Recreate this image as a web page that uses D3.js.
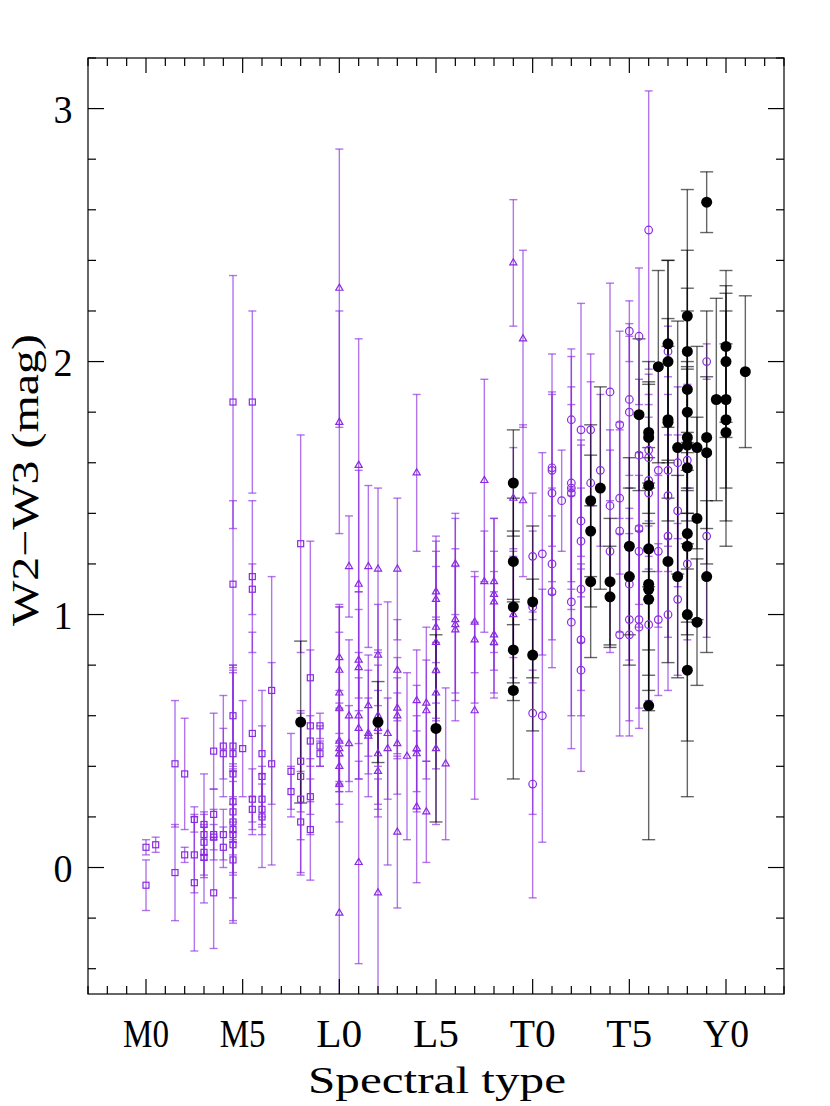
<!DOCTYPE html>
<html>
<head>
<meta charset="utf-8">
<script src="https://cdn.jsdelivr.net/npm/d3@7"></script>
<style>
  body { margin: 0; background: #fff; }
  svg text { font-family: "Liberation Serif", "DejaVu Serif", serif; fill: #000; }
</style>
</head>
<body>
<div id="chart"></div>
<script>
// spectral type code: M0 = 0, L0 = 10, T0 = 20, Y0 = 30
const tickTypes = [0, 5, 10, 15, 20, 25, 30];
const tickNames = ["M0", "M5", "L0", "L5", "T0", "T5", "Y0"];
const yTicks = [0, 1, 2, 3];

// [spectral type, W2-W3, error]
const mDwarfs = [
  [0, 0.08, 0.03], [0, -0.07, 0.10], [0.5, 0.09, 0.03],
  [1.5, 0.41, 0.25], [1.5, -0.02, 0.19], [2, 0.37, 0.22], [2, 0.05, 0.03],
  [2.5, 0.19, 0.05], [2.5, 0.05, 0.15], [2.5, -0.06, 0.27],
  [3, 0.17, 0.20], [3, 0.13, 0.08], [3, 0.10, 0.07], [3, 0.06, 0.10], [3, 0.04, 0.18],
  [3.5, 0.46, 0.15], [3.5, 0.21, 0.10], [3.5, 0.13, 0.10], [3.5, 0.12, 0.05], [3.5, -0.10, 0.22],
  [4, 0.48, 0.20], [4, 0.45, 0.10], [4, 0.13, 0.10], [4, 0.08, 0.08],
  [4.5, 1.84, 0.50], [4.5, 1.12, 0.33], [4.5, 0.60, 0.20], [4.5, 0.48, 0.30], [4.5, 0.45, 0.35],
  [4.5, 0.37, 0.40], [4.5, 0.26, 0.15], [4.5, 0.22, 0.12], [4.5, 0.18, 0.20], [4.5, 0.15, 0.10],
  [4.5, 0.13, 0.25], [4.5, 0.09, 0.30], [4.5, 0.03, 0.25],
  [5, 0.47, 0.19],
  [5.5, 1.84, 0.36], [5.5, 1.15, 0.30], [5.5, 1.10, 0.10], [5.5, 0.53, 0.40], [5.5, 0.27, 0.12], [5.5, 0.23, 0.05],
  [6, 0.45, 0.25], [6, 0.36, 0.20], [6, 0.27, 0.10], [6, 0.23, 0.10], [6, 0.20, 0.20],
  [6.5, 0.70, 0.45], [6.5, 0.41, 0.40],
  [7.5, 0.38, 0.15], [7.5, 0.30, 0.10],
  [8, 1.28, 0.43], [8, 0.42, 0.20], [8, 0.36, 0.25], [8, 0.27, 0.30], [8, 0.18, 0.20],
  [8.5, 0.75, 0.54], [8.5, 0.56, 0.30], [8.5, 0.50, 0.10], [8.5, 0.28, 0.15], [8.5, 0.15, 0.20],
  [9, 0.56, 0.05], [9, 0.48, 0.08], [9, 0.45, 0.05]
];

const lDwarfs = [
  [10, 2.29, 0.55], [10, 1.76, 0.44], [10, 0.83, 0.20], [10, 0.78, 0.25], [10, 0.69, 0.35],
  [10, 0.63, 0.30], [10, 0.50, 0.20], [10, 0.47, 0.15], [10, 0.45, 0.20], [10, 0.40, 0.10],
  [10, 0.33, 0.15], [10, -0.18, 0.62],
  [10.5, 1.19, 0.20], [10.5, 0.60, 0.30], [10.5, 0.49, 0.15],
  [11, 1.59, 0.50], [11, 1.12, 0.45], [11, 0.82, 0.20], [11, 0.79, 0.30], [11, 0.60, 0.25],
  [11, 0.55, 0.20], [11, 0.02, 0.40],
  [11.5, 1.19, 0.32], [11.5, 0.64, 0.20], [11.5, 0.53, 0.25], [11.5, 0.52, 0.15],
  [12, 1.18, 0.32], [12, 0.84, 0.20], [12, 0.60, 0.20], [12, 0.55, 0.30], [12, 0.45, 0.25],
  [12, 0.38, 0.15], [12, -0.10, 0.45],
  [12.5, 0.53, 0.52], [12.5, 0.47, 0.20],
  [13, 1.18, 0.28], [13, 0.78, 0.20], [13, 0.63, 0.20], [13, 0.60, 0.15], [13, 0.49, 0.20], [13, 0.14, 0.30],
  [13.5, 0.44, 0.33],
  [14, 1.56, 0.31], [14, 0.66, 0.20], [14, 0.47, 0.25], [14, 0.45, 0.15], [14, 0.24, 0.30],
  [14.5, 0.65, 0.30], [14.5, 0.62, 0.20], [14.5, 0.22, 0.20],
  [15, 1.09, 0.20], [15, 1.06, 0.25], [15, 0.95, 0.30], [15, 0.89, 0.30], [15, 0.78, 0.20],
  [15, 0.69, 0.30], [15, 0.47, 0.30],
  [15.5, 0.41, 0.30],
  [16, 1.20, 0.20], [16, 0.98, 0.40], [16, 0.96, 0.30], [16, 0.94, 0.25],
  [17, 0.97, 0.20], [17, 0.90, 0.25], [17, 0.62, 0.35],
  [17.5, 1.53, 0.40], [17.5, 1.13, 0.20],
  [18, 1.13, 0.25], [18, 1.08, 0.30], [18, 1.05, 0.20], [18, 0.92, 0.25], [18, 0.89, 0.20],
  [19, 2.39, 0.25], [19, 1.46, 0.20], [19, 1.03, 0.20], [19, 1.00, 0.25],
  [19.5, 2.09, 0.35], [19.5, 1.45, 0.30]
];

const tDwarfs = [
  [20, 1.23, 0.25], [20, 1.03, 0.30], [20, 0.61, 0.40], [20, 0.33, 0.45],
  [20.5, 1.24, 0.40], [20.5, 0.60, 0.50],
  [21, 1.58, 0.45], [21, 1.57, 0.30], [21, 1.48, 0.40], [21, 1.20, 0.30], [21, 1.09, 0.30],
  [21.5, 1.45, 0.20],
  [22, 1.77, 0.28], [22, 1.52, 0.50], [22, 1.50, 0.40], [22, 1.48, 0.35], [22, 1.05, 0.45], [22, 0.97, 0.50],
  [22.5, 1.73, 0.50], [22.5, 1.37, 0.30], [22.5, 1.29, 0.40], [22.5, 1.10, 0.40], [22.5, 0.90, 0.30], [22.5, 0.78, 0.40],
  [23, 1.73, 0.30], [23, 1.52, 0.40],
  [23.5, 1.57, 0.30],
  [24, 1.88, 0.43], [24, 1.43, 0.30], [24, 1.25, 0.40],
  [24.5, 1.75, 0.37], [24.5, 1.46, 0.30], [24.5, 1.33, 0.40], [24.5, 0.92, 0.40],
  [25, 2.12, 0.12], [25, 1.85, 0.30], [25, 1.80, 0.30], [25, 1.12, 0.30], [25, 0.98, 0.40], [25, 0.92, 0.40],
  [25.5, 2.10, 0.27], [25.5, 1.63, 0.30], [25.5, 1.34, 0.30], [25.5, 1.25, 0.30], [25.5, 0.98, 0.35], [25.5, 0.95, 0.40],
  [26, 2.52, 0.55], [26, 1.65, 0.30], [26, 1.62, 0.25], [26, 1.53, 0.30], [26, 1.48, 0.30], [26, 0.96, 0.30],
  [26.5, 1.57, 0.40], [26.5, 1.25, 0.30], [26.5, 0.98, 0.30],
  [27, 2.04, 0.10], [27, 1.57, 0.30], [27, 1.47, 0.30], [27, 1.31, 0.40], [27, 1.00, 0.30],
  [27.5, 1.60, 0.30], [27.5, 1.41, 0.30], [27.5, 1.06, 0.30],
  [28, 1.61, 0.30], [28, 1.20, 0.30],
  [29, 2.00, 0.07], [29, 1.31, 0.40]
];

const blackPts = [
  [8, 0.575, 0.32], [12, 0.575, 0.16], [15, 0.55, 0.37],
  [19, 1.52, 0.21], [19, 1.21, 0.25], [19, 1.03, 0.30], [19, 0.86, 0.20], [19, 0.70, 0.35],
  [20, 1.05, 0.30], [20, 0.84, 0.30],
  [23, 1.45, 0.30], [23, 1.33, 0.30], [23, 1.13, 0.30],
  [23.5, 1.50, 0.40],
  [24, 1.13, 0.25], [24, 1.07, 0.20],
  [25, 1.27, 0.35], [25, 1.15, 0.35],
  [25.5, 1.79, 0.30],
  [26, 1.72, 0.20], [26, 1.70, 0.30], [26, 1.51, 0.40], [26, 1.26, 0.40], [26, 1.12, 0.50],
  [26, 1.10, 0.40], [26, 1.06, 0.30], [26, 0.64, 0.53],
  [26.5, 1.98, 0.38],
  [27, 2.07, 0.33], [27, 2.00, 0.40], [27, 1.77, 0.40], [27, 1.76, 0.30], [27, 1.21, 0.40],
  [27.5, 1.66, 0.50], [27.5, 1.15, 0.40],
  [28, 2.18, 0.50], [28, 2.04, 0.40], [28, 1.89, 0.40], [28, 1.80, 0.40], [28, 1.70, 0.30],
  [28, 1.67, 0.30], [28, 1.58, 0.40], [28, 1.32, 0.40], [28, 1.27, 0.30], [28, 1.00, 0.50], [28, 0.78, 0.50],
  [28.5, 1.66, 0.40], [28.5, 1.38, 0.40], [28.5, 0.97, 0.25],
  [29, 2.63, 0.12], [29, 1.70, 0.50], [29, 1.64, 0.30], [29, 1.15, 0.30],
  [29.5, 1.85, 0.40],
  [30, 2.06, 0.30], [30, 2.00, 0.30], [30, 1.85, 0.35], [30, 1.77, 0.50], [30, 1.72, 0.35],
  [31, 1.96, 0.30]
];

const W = 830, H = 1106;
const purple = "#8a2be2";

const svg = d3.select("#chart").append("svg")
  .attr("width", W)
  .attr("height", H);

const x = d3.scaleLinear().domain([-3, 33]).range([88, 784]);
const y = d3.scaleLinear().domain([-0.5, 3.2]).range([994, 58]);

const plot = svg.append("g");
svg.append("clipPath").attr("id", "clip")
  .append("rect").attr("x", 88).attr("y", 58).attr("width", 696).attr("height", 936);
plot.attr("clip-path", "url(#clip)");

function errorBars(data, color, cap, opacity) {
  const g = plot.append("g")
    .attr("stroke", color)
    .attr("stroke-opacity", opacity)
    .attr("stroke-width", 1.4);
  g.selectAll("line.bar").data(data).enter().append("line")
    .attr("class", "bar")
    .attr("x1", d => x(d[0])).attr("x2", d => x(d[0]))
    .attr("y1", d => y(d[1] - d[2])).attr("y2", d => y(d[1] + d[2]));
  [-1, 1].forEach(s => {
    g.selectAll("line.cap" + s).data(data).enter().append("line")
      .attr("x1", d => x(d[0]) - cap / 2).attr("x2", d => x(d[0]) + cap / 2)
      .attr("y1", d => y(d[1] + s * d[2])).attr("y2", d => y(d[1] + s * d[2]));
  });
}

errorBars(mDwarfs, purple, 8, 0.65);
errorBars(lDwarfs, purple, 8, 0.65);
errorBars(tDwarfs, purple, 8, 0.65);
errorBars(blackPts, "#000", 13, 0.6);

// squares
plot.append("g").selectAll("rect").data(mDwarfs).enter().append("rect")
  .attr("x", d => x(d[0]) - 3).attr("y", d => y(d[1]) - 3)
  .attr("width", 6).attr("height", 6)
  .attr("fill", "none").attr("stroke", purple).attr("stroke-width", 1.2);

// triangles
const tri = d3.symbol().type(d3.symbolTriangle).size(22);
plot.append("g").selectAll("path").data(lDwarfs).enter().append("path")
  .attr("d", tri)
  .attr("transform", d => "translate(" + x(d[0]) + "," + y(d[1]) + ")")
  .attr("fill", "none").attr("stroke", purple).attr("stroke-width", 1.2);

// open circles
plot.append("g").selectAll("circle").data(tDwarfs).enter().append("circle")
  .attr("cx", d => x(d[0])).attr("cy", d => y(d[1]))
  .attr("r", 3.8)
  .attr("fill", "none").attr("stroke", purple).attr("stroke-width", 1.2);

// filled black circles
plot.append("g").selectAll("circle").data(blackPts).enter().append("circle")
  .attr("cx", d => x(d[0])).attr("cy", d => y(d[1]))
  .attr("r", 5.5)
  .attr("fill", "#000");

// frame and ticks
const axes = svg.append("g").attr("stroke", "#000").attr("stroke-width", 1.2);
axes.append("rect").attr("x", 88).attr("y", 58).attr("width", 696).attr("height", 936)
  .attr("fill", "none");

const xMinor = d3.range(-3, 34, 1);
axes.selectAll("line.xt").data(xMinor).enter().append("line")
  .attr("x1", d => x(d)).attr("x2", d => x(d))
  .attr("y1", 994).attr("y2", d => 994 - (d % 5 === 0 ? 15 : 8));
axes.selectAll("line.xtt").data(xMinor).enter().append("line")
  .attr("x1", d => x(d)).attr("x2", d => x(d))
  .attr("y1", 58).attr("y2", d => 58 + (d % 5 === 0 ? 15 : 8));

const yMinor = d3.range(-2, 17).map(i => i * 0.2);
const isMajor = v => Math.abs(v - Math.round(v)) < 1e-6;
axes.selectAll("line.yt").data(yMinor).enter().append("line")
  .attr("y1", d => y(d)).attr("y2", d => y(d))
  .attr("x1", 88).attr("x2", d => 88 + (isMajor(d) ? 16 : 8));
axes.selectAll("line.ytr").data(yMinor).enter().append("line")
  .attr("y1", d => y(d)).attr("y2", d => y(d))
  .attr("x1", 784).attr("x2", d => 784 - (isMajor(d) ? 16 : 8));

// tick labels
svg.selectAll("text.xl").data(tickTypes).enter().append("text")
  .attr("x", d => x(d)).attr("y", 1047)
  .attr("text-anchor", "middle")
  .attr("font-size", 40)
  .attr("textLength", 46).attr("lengthAdjust", "spacingAndGlyphs")
  .text((d, i) => tickNames[i]);

svg.selectAll("text.yl").data(yTicks).enter().append("text")
  .attr("x", 63).attr("y", d => y(d) + 14)
  .attr("text-anchor", "middle")
  .attr("font-size", 40)
  .attr("textLength", 19).attr("lengthAdjust", "spacingAndGlyphs")
  .text(d => d);

svg.append("text")
  .attr("x", 437).attr("y", 1093)
  .attr("text-anchor", "middle")
  .attr("font-size", 38)
  .attr("textLength", 258).attr("lengthAdjust", "spacingAndGlyphs")
  .text("Spectral type");

svg.append("text")
  .attr("transform", "translate(38,480) rotate(-90)")
  .attr("text-anchor", "middle")
  .attr("font-size", 38)
  .attr("textLength", 292).attr("lengthAdjust", "spacingAndGlyphs")
  .text("W2\u2212W3 (mag)");
</script>
</body>
</html>
